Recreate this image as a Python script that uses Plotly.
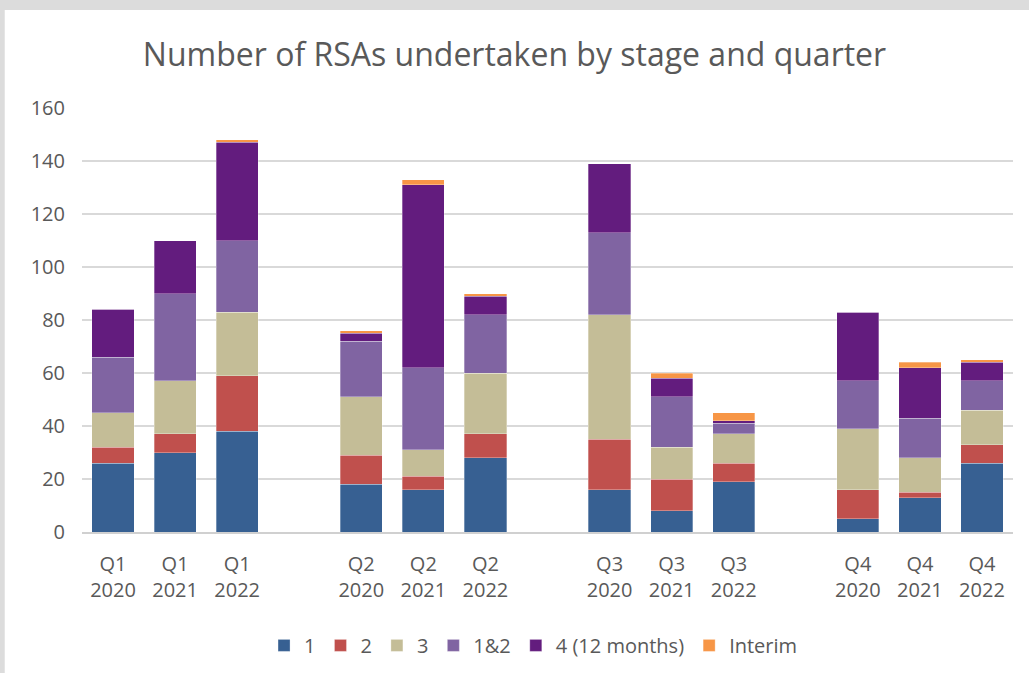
import plotly.graph_objects as go

# categories, with blank spacer slots between the quarter groups
categories = ["Q1<br>2020", "Q1<br>2021", "Q1<br>2022", " ",
              "Q2<br>2020", "Q2<br>2021", "Q2<br>2022", "  ",
              "Q3<br>2020", "Q3<br>2021", "Q3<br>2022", "   ",
              "Q4<br>2020", "Q4<br>2021", "Q4<br>2022"]
quarters = [c for c in categories if c.strip()]

stage_1 = [26, 30, 38, 18, 16, 28, 16, 8, 19, 5, 13, 26]
stage_2 = [6, 7, 21, 11, 5, 9, 19, 12, 7, 11, 2, 7]
stage_3 = [13, 20, 24, 22, 10, 23, 47, 12, 11, 23, 13, 13]
stage_12 = [21, 33, 27, 21, 31, 22, 31, 19, 4, 18, 15, 11]
stage_4 = [18, 20, 37, 3, 69, 7, 26, 7, 1, 26, 19, 7]
interim = [0, 0, 1, 1, 2, 1, 0, 2, 3, 0, 2, 1]

series = [("1", stage_1, "#376092"),
          ("2", stage_2, "#C0504D"),
          ("3", stage_3, "#C4BD97"),
          ("1&2", stage_12, "#8064A2"),
          ("4 (12 months)", stage_4, "#631C7E"),
          ("Interim", interim, "#F79646")]

fig = go.Figure()
for name, vals, col in series:
    fig.add_trace(go.Bar(x=quarters, y=vals, name=name, marker_color=col,
                         marker_line=dict(color="rgba(255,255,255,0.6)", width=0.5)))

grey = "#595959"
fig.update_layout(
    barmode="stack",
    bargap=0.32,
    width=1029, height=673,
    margin=dict(l=82, r=16, t=108, b=141, autoexpand=False),
    paper_bgcolor="#dcdcdc",
    plot_bgcolor="white",
    font=dict(family="Open Sans", color=grey, size=18),
    title=dict(text="Number of RSAs undertaken by stage and quarter",
               x=0.5, xanchor="center", y=0.918, yanchor="middle",
               font=dict(size=32, color=grey)),
    legend=dict(orientation="h", x=0.485, xanchor="center",
                yref="container", y=0.041, yanchor="middle",
                font=dict(size=20, color=grey), traceorder="normal",
                itemwidth=30, bgcolor="rgba(0,0,0,0)"),
    shapes=[dict(type="rect", xref="paper", yref="paper", x0=-0.083, x1=1.02,
                 y0=-0.34, y1=1.231, fillcolor="white", line_width=0, layer="below")],
)
fig.update_xaxes(type="category", categoryorder="array", categoryarray=categories,
                 showgrid=False, showline=True, linecolor="#d0d0d0", linewidth=1.5,
                 ticks="", ticklabelstandoff=13, tickfont=dict(size=20, color=grey))
fig.update_yaxes(range=[0, 160], dtick=20, showgrid=True, gridcolor="#d9d9d9",
                 gridwidth=1.5, zeroline=False, ticks="", ticklabelstandoff=16,
                 tickfont=dict(size=20, color=grey))

fig.write_html("out.html", config={"displayModeBar": False},
               post_script="document.body.style.margin='0';")
